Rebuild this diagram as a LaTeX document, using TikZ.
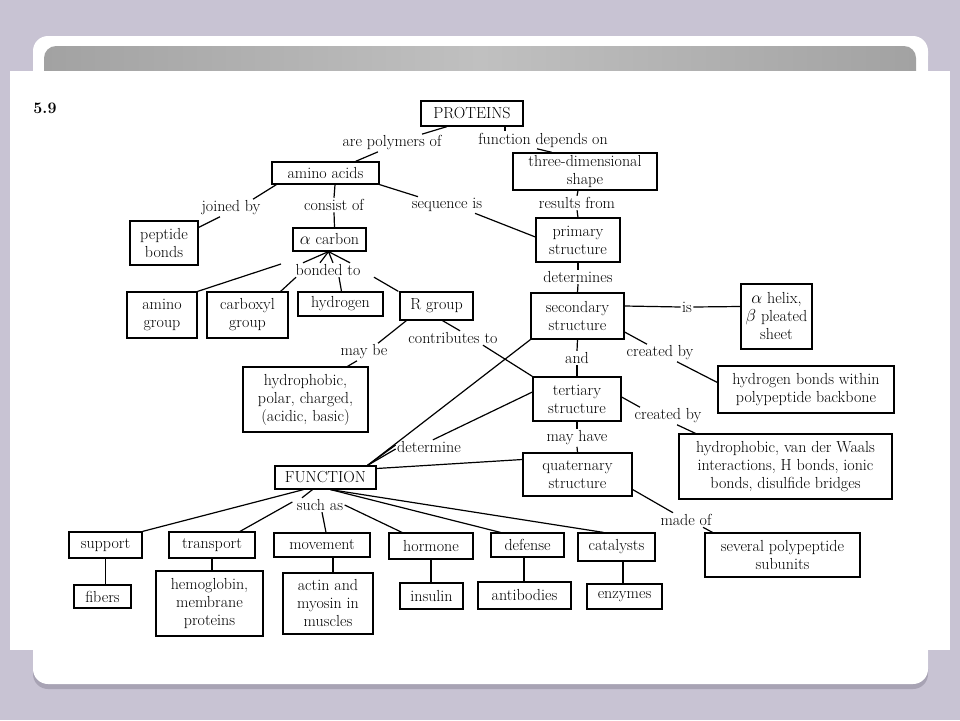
\documentclass[tikz,border=0pt]{standalone}
\definecolor{bgpurple}{RGB}{200,195,211}
\definecolor{shadowc}{RGB}{168,163,180}
\definecolor{hdrdark}{RGB}{162,162,162}
\definecolor{hdrlight}{RGB}{192,192,192}
\begin{document}
\begin{tikzpicture}[x=1pt, y=-1pt, line width=1.2pt,
  font=\fontsize{16}{18}\selectfont,
  box/.style={draw, align=center, inner sep=1pt},
  dims/.style 2 args={minimum width=#1pt, minimum height=#2pt},
  lbl/.style={inner sep=1pt, align=center}]

  % slide frame
  \useasboundingbox (0,0) rectangle (960,720);
  \fill[bgpurple] (0,0) rectangle (960,720);
  \fill[shadowc, rounded corners=15pt] (33,41) rectangle (928,689);
  \fill[white, rounded corners=15pt] (33,36) rectangle (928,684);
  \shade[left color=hdrdark, right color=hdrdark, middle color=hdrlight, rounded corners=12pt] (44,46) rectangle (916,100);
  \fill[white] (10,71) rectangle (950,650);

  \node[font=\fontsize{16}{18}\bfseries] (num) at (45,108) {5.9};

  % concepts
  \node[box, dims={102}{25}] (prot) at (472,113.5) {PROTEINS};
  \node[box, dims={107}{22}] (amino) at (325.5,173) {amino acids};
  \node[box, dims={144}{37}] (shape) at (585,171.5) {three-dimensional\\shape};
  \node[box, dims={68}{44}] (peptide) at (164,243) {peptide\\bonds};
  \node[box, dims={73}{23}] (acarb) at (329.5,239.5) {$\alpha$ carbon};
  \node[box, dims={84}{44}] (primary) at (578,240) {primary\\structure};
  \node[box, dims={70}{46}] (aminogrp) at (162,315) {amino\\group};
  \node[box, dims={81}{46}] (carboxyl) at (247.5,315) {carboxyl\\group};
  \node[box, dims={85}{24}] (hydrogen) at (340.5,304) {hydrogen};
  \node[box, dims={73}{28}] (rgroup) at (436.5,306) {R group};
  \node[box, dims={93}{46}] (secondary) at (577.5,316) {secondary\\structure};
  \node[box, dims={71}{65}] (helix) at (776.5,316.5) {$\alpha$ helix,\\$\beta$ pleated\\sheet};
  \node[box, dims={125}{65}] (hydro) at (305.5,399.5) {hydrophobic,\\polar, charged,\\(acidic, basic)};
  \node[box, dims={176}{47}] (hbonds) at (806,389.5) {hydrogen bonds within\\polypeptide backbone};
  \node[box, dims={88}{44}] (tertiary) at (577,399) {tertiary\\structure};
  \node[box, dims={213}{65}] (vdw) at (785.5,466.5) {hydrophobic, van der Waals\\interactions, H bonds, ionic\\bonds, disulfide bridges};
  \node[box, dims={101}{23}] (func) at (325.5,477.5) {FUNCTION};
  \node[box, dims={109}{43}] (quat) at (577.5,474.5) {quaternary\\structure};
  \node[box, dims={155}{44}] (several) at (782.5,555) {several polypeptide\\subunits};
  \node[box, dims={73}{26}] (support) at (105.5,545) {support};
  \node[box, dims={86}{26}] (transport) at (212,545) {transport};
  \node[box, dims={96}{24}] (movement) at (322,545) {movement};
  \node[box, dims={84}{26}] (hormone) at (431,546) {hormone};
  \node[box, dims={73}{24}] (defense) at (527.5,545) {defense};
  \node[box, dims={77}{28}] (catalysts) at (616.5,547) {catalysts};
  \node[box, dims={57}{23}] (fibers) at (102.5,596.5) {fibers};
  \node[box, dims={107}{65}] (hemo) at (209.5,603.5) {hemoglobin,\\membrane\\proteins};
  \node[box, dims={90}{61}] (actin) at (328,603.5) {actin and\\myosin in\\muscles};
  \node[box, dims={63}{26}] (insulin) at (431.5,596) {insulin};
  \node[box, dims={93}{27}] (antib) at (524.5,595.5) {antibodies};
  \node[box, dims={75}{25}] (enzymes) at (624.5,596.5) {enzymes};

  % linking words
  \node[lbl] (polym) at (392,143) {are polymers of};
  \node[lbl] (fdep) at (543,140) {function depends on};
  \node[lbl] (joined) at (231,208) {joined by};
  \node[lbl] (consist) at (334,205) {consist of};
  \node[lbl] (seqis) at (447,205) {sequence is};
  \node[lbl] (results) at (577,203) {results from};
  \node[lbl] (bonded) at (328,270) {bonded to};
  \node[lbl] (determines) at (578,277) {determines};
  \node[lbl] (is) at (687,307) {is};
  \node[lbl] (maybe) at (364,352) {may be};
  \node[lbl] (contrib) at (453,338) {contributes to};
  \node[lbl] (and) at (577,358) {and};
  \node[lbl] (created1) at (660,353) {created by};
  \node[lbl] (created2) at (668,416) {created by};
  \node[lbl] (determine) at (429,447) {determine};
  \node[lbl] (mayhave) at (577,438) {may have};
  \node[lbl] (suchas) at (320,505) {such as};
  \node[lbl] (madeof) at (686,520) {made of};

  % connectors
  \draw ([xshift=-25pt]prot.south) -- ([xshift=30pt]polym.north);
  \draw ([xshift=-14pt]polym.south) -- ([xshift=30pt]amino.north);
  \draw ([xshift=33pt]prot.south) -- ([xshift=-38pt]fdep.north);
  \draw ([xshift=-6pt]fdep.south) -- ([xshift=-33pt]shape.north);
  \draw ([xshift=-7pt]shape.south) -- (results.north);
  \draw (results.south) -- (primary.north);
  \draw (primary.south) -- (determines.north);
  \draw (determines.south) -- (secondary.north);
  \draw ([yshift=10pt]secondary.east) -- (is.west);
  \draw (is.east) -- ([yshift=10pt]helix.west);
  \draw ([yshift=-16pt]secondary.east) -- ([xshift=-13pt]created1.north);
  \draw ([xshift=17pt]created1.south) -- ([yshift=7pt]hbonds.west);
  \draw (secondary.south) -- (and.north);
  \draw (and.south) -- (tertiary.north);
  \draw ([yshift=2pt]tertiary.east) -- ([xshift=-28pt]created2.north);
  \draw ([xshift=9pt]created2.south) -- ([xshift=-90pt]vdw.north);
  \draw (tertiary.south) -- (mayhave.north);
  \draw (mayhave.south) -- (quat.north);
  \draw ([yshift=-15pt]quat.east) -- ([xshift=-13pt]madeof.north);
  \draw ([xshift=17pt]madeof.south) -- ([xshift=-70pt]several.north);

  \draw ([xshift=5pt]amino.south west) -- ([xshift=22pt]joined.north);
  \draw ([xshift=-11pt]joined.south) -- ([yshift=-7pt]peptide.north east);
  \draw ([xshift=9.5pt]amino.south) -- (consist.north);
  \draw (consist.south) -- ([xshift=5pt]acarb.north);
  \draw (amino.south east) -- ([xshift=-29pt]seqis.north);
  \draw ([xshift=28pt]seqis.south) -- ([yshift=3pt]primary.west);

  \foreach \dx in {-25,-8,5,22}
    \draw ([xshift=-1pt]acarb.south) -- ([xshift=\dx pt]bonded.north);
  \draw ([xshift=-13pt,yshift=6pt]bonded.west) -- (aminogrp.north east);
  \draw ([xshift=2pt]bonded.south west) -- ([xshift=-8pt]carboxyl.north east);
  \draw ([xshift=11pt]bonded.south) -- ([xshift=1pt]hydrogen.north);
  \draw ([xshift=12pt]bonded.south east) -- ([xshift=-1pt]rgroup.north west);

  \draw ([xshift=7pt]rgroup.south west) -- ([xshift=14pt]maybe.north);
  \draw ([xshift=-7pt]maybe.south) -- ([xshift=42pt]hydro.north);
  \draw ([xshift=6pt]rgroup.south) -- ([xshift=7pt]contrib.north);
  \draw ([xshift=30pt]contrib.south) -- (tertiary.north west);

  \draw (secondary.south west) -- ([xshift=42pt]func.north);
  \draw ([yshift=7pt]tertiary.west) -- ([xshift=4pt]determine.north);
  \draw ([yshift=2pt]determine.west) -- ([xshift=42pt]func.north);
  \draw ([yshift=-2pt]determine.west) -- ([xshift=42pt]func.north);
  \draw ([yshift=15pt]quat.west) -- ([yshift=9pt]func.east);

  \draw ([xshift=-22pt]func.south) -- (support.north east);
  \draw ([xshift=-13pt]func.south) -- ([xshift=-18pt]suchas.north);
  \draw ([xshift=-3pt,yshift=3pt]suchas.west) -- ([xshift=28pt]transport.north);
  \draw ([xshift=2pt]suchas.south) -- ([xshift=4pt]movement.north);
  \draw (suchas.east) -- ([xshift=-29pt]hormone.north);
  \draw ([xshift=5pt]func.south) -- ([xshift=-27pt]defense.north);
  \draw ([xshift=5pt]func.south) -- ([xshift=-13pt]catalysts.north);

  \draw (support.south) -- (support.south |- fibers.north);
  \draw (transport.south) -- (transport.south |- hemo.north);
  \draw ([xshift=11pt]movement.south) -- ([xshift=11pt]movement.south |- actin.north);
  \draw (hormone.south) -- (hormone.south |- insulin.north);
  \draw ([xshift=-3.5pt]defense.south) -- ([xshift=-3.5pt]defense.south |- antib.north);
  \draw ([xshift=6.5pt]catalysts.south) -- ([xshift=6.5pt]catalysts.south |- enzymes.north);
\end{tikzpicture}
\end{document}
